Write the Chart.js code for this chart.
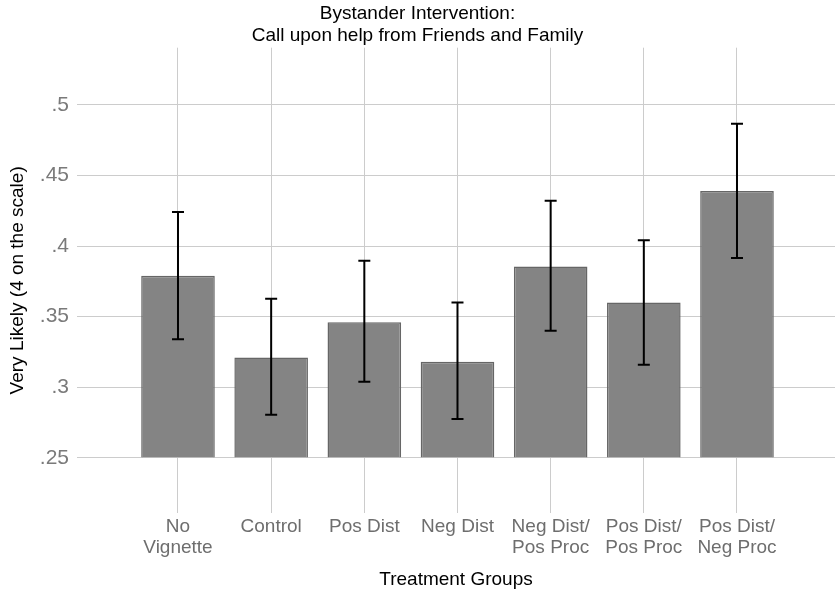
<!DOCTYPE html>
<html>
<head>
<meta charset="utf-8">
<script src="https://cdn.jsdelivr.net/npm/chart.js@4/dist/chart.umd.min.js"></script>
<style>
  html, body { margin: 0; padding: 0; background: #fff; }
  #wrap { width: 835px; height: 595px; position: relative; }
  canvas { display: block; }
</style>
</head>
<body>
<div id="wrap"><canvas id="c" width="835" height="595"></canvas></div>
<script>
const categories = [
  ['No', 'Vignette'],
  'Control',
  'Pos Dist',
  'Neg Dist',
  ['Neg Dist/', 'Pos Proc'],
  ['Pos Dist/', 'Pos Proc'],
  ['Pos Dist/', 'Neg Proc']
];
const means = [0.379, 0.321, 0.346, 0.318, 0.3855, 0.360, 0.439];
const ciLow  = [0.334, 0.2805, 0.304, 0.2776, 0.340, 0.316, 0.3916];
const ciHigh = [0.424, 0.3626, 0.3895, 0.360, 0.432, 0.404, 0.4865];
const yTicks = [0.25, 0.3, 0.35, 0.4, 0.45, 0.5];
const yTickLabels = ['.25', '.3', '.35', '.4', '.45', '.5'];

const FONT = "'Liberation Sans', Arial, sans-serif";

const errorBars = {
  id: 'errorBars',
  afterDatasetsDraw(chart) {
    const ctx = chart.ctx;
    const xs = chart.scales.x, ys = chart.scales.y;
    ctx.save();
    ctx.strokeStyle = '#000';
    ctx.lineWidth = 2;
    for (let i = 0; i < means.length; i++) {
      const x = xs.getPixelForValue(i);
      const yl = ys.getPixelForValue(ciLow[i]);
      const yh = ys.getPixelForValue(ciHigh[i]);
      ctx.beginPath();
      ctx.moveTo(x, yl); ctx.lineTo(x, yh);
      ctx.moveTo(x - 6, yl); ctx.lineTo(x + 6, yl);
      ctx.moveTo(x - 6, yh); ctx.lineTo(x + 6, yh);
      ctx.stroke();
    }
    ctx.restore();
  }
};

new Chart(document.getElementById('c'), {
  type: 'bar',
  data: {
    datasets: [{
      data: means.map((v, i) => ({ x: i, y: v })),
      base: 0.25,
      backgroundColor: '#848484',
      borderColor: '#666666',
      borderWidth: 1.5,
      categoryPercentage: 1,
      barPercentage: 0.79
    }]
  },
  options: {
    responsive: false,
    animation: false,
    devicePixelRatio: 1,
    layout: { padding: { left: 0, right: 0, top: 0, bottom: 0 } },
    plugins: {
      legend: { display: false },
      tooltip: { enabled: false },
      title: {
        display: true,
        text: ['Bystander Intervention:', 'Call upon help from Friends and Family'],
        color: '#000',
        font: { family: FONT, size: 19, weight: 'normal', lineHeight: 1.15 },
        padding: { top: 3, bottom: 1 }
      }
    },
    scales: {
      x: {
        type: 'linear',
        offset: false,
        min: -1.084,
        max: 7.052,
        afterBuildTicks(scale) {
          scale.ticks = categories.map((c, i) => ({ value: i }));
        },
        afterFit(scale) { scale.height = 82; },
        ticks: {
          autoSkip: false,
          maxRotation: 0,
          padding: 3,
          color: '#6e6e6e',
          font: { family: FONT, size: 19, lineHeight: 1.1 },
          callback: (v) => categories[v]
        },
        grid: { offset: false, color: '#cccccc', lineWidth: 1, drawTicks: false },
        border: { display: false },
        title: {
          display: true,
          text: 'Treatment Groups',
          color: '#000',
          font: { family: FONT, size: 19, lineHeight: 1.2 },
          padding: { top: 4, bottom: 4 }
        }
      },
      y: {
        min: 0.211,
        max: 0.5404,
        afterBuildTicks(scale) {
          scale.ticks = yTicks.map(v => ({ value: v }));
        },
        afterFit(scale) { scale.width = 77; },
        ticks: {
          padding: 8,
          color: '#7a7a7a',
          font: { family: FONT, size: 21 },
          callback: (v) => yTickLabels[yTicks.findIndex(t => Math.abs(t - v) < 1e-9)]
        },
        grid: { color: '#cccccc', lineWidth: 1, drawTicks: false },
        border: { display: false },
        title: {
          display: true,
          text: 'Very Likely (4 on the scale)',
          color: '#000',
          font: { family: FONT, size: 19, lineHeight: 1.2 },
          padding: { top: 6, bottom: 6 }
        }
      }
    }
  },
  plugins: [errorBars]
});
</script>
</body>
</html>
